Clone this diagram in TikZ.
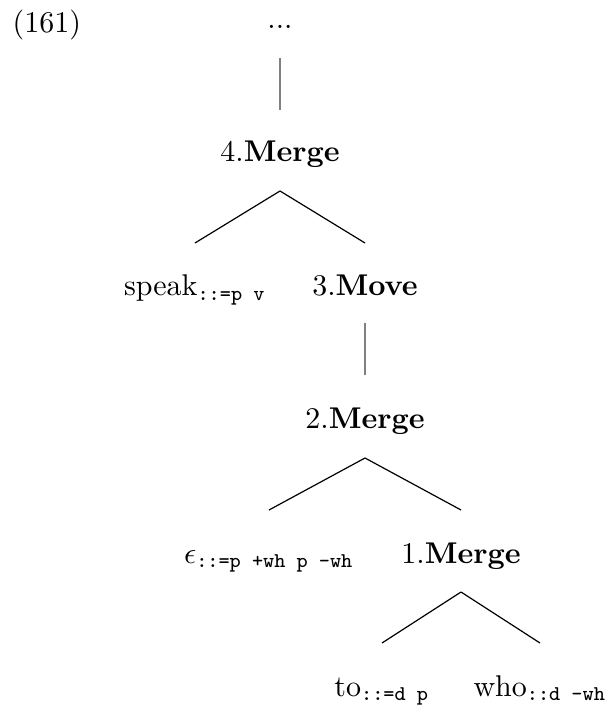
\documentclass[tikz,border=0pt]{standalone}
\usepackage{amsmath}
\usetikzlibrary{calc}
\begin{document}
\begin{tikzpicture}[x=0.33333pt,y=-0.33333pt,
  lbl/.style={anchor=base,inner sep=0pt},
  branch/.style={line width=0.4pt,black}]
\useasboundingbox (0,0) rectangle (608,708);
\node[anchor=base west,inner sep=0pt] (ex) at (12,33) {(161)};
\node[lbl] (root) at (280,29) {...};
\node[lbl] (m4) at (280,162) {4.\textbf{Merge}};
\node[lbl] (sp) at (195,296) {speak$_{\texttt{::=p v}}$};
\node[lbl] (m3) at (365,296) {3.\textbf{Move}};
\node[lbl] (m2) at (365,429) {2.\textbf{Merge}};
\node[lbl] (eps) at (269,563) {$\epsilon_{\texttt{::=p +wh p -wh}}$};
\node[lbl] (m1) at (461,563) {1.\textbf{Merge}};
\node[lbl] (to) at (382,696) {to$_{\texttt{::=d p}}$};
\node[lbl] (who) at (540,696) {who$_{\texttt{::d -wh}}$};
\draw[branch,gray] ($(root.base)+(0,29)$) -- ($(m4.base)+(0,-52)$);
\draw[branch] ($(m4.base)+(0,29)$) -- ($(sp.base)+(0,-53)$);
\draw[branch] ($(m4.base)+(0,29)$) -- ($(m3.base)+(0,-53)$);
\draw[branch,gray] ($(m3.base)+(0,27)$) -- ($(m2.base)+(0,-54)$);
\draw[branch] ($(m2.base)+(0,29)$) -- ($(eps.base)+(0,-53)$);
\draw[branch] ($(m2.base)+(0,29)$) -- ($(m1.base)+(0,-53)$);
\draw[branch] ($(m1.base)+(0,29)$) -- ($(to.base)+(0,-53)$);
\draw[branch] ($(m1.base)+(0,29)$) -- ($(who.base)+(0,-53)$);
\end{tikzpicture}
\end{document}
